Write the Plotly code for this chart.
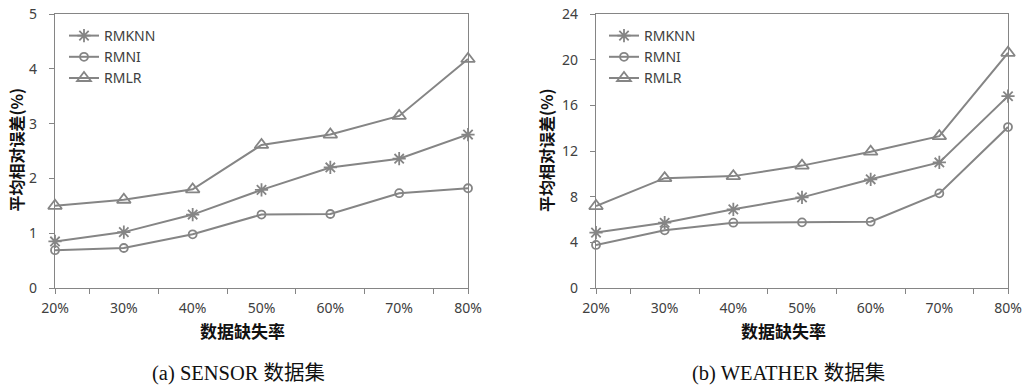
import plotly.graph_objects as go

categories = ["20%", "30%", "40%", "50%", "60%", "70%", "80%"]
series_names = ["RMKNN", "RMNI", "RMLR"]

sensor_rmknn = [0.85, 1.02, 1.34, 1.79, 2.20, 2.36, 2.80]
sensor_rmni = [0.69, 0.73, 0.98, 1.34, 1.35, 1.73, 1.82]
sensor_rmlr = [1.50, 1.61, 1.80, 2.61, 2.80, 3.14, 4.18]

weather_rmknn = [4.85, 5.72, 6.89, 7.94, 9.52, 11.0, 16.8]
weather_rmni = [3.77, 5.05, 5.72, 5.75, 5.81, 8.29, 14.1]
weather_rmlr = [7.18, 9.62, 9.8, 10.72, 11.94, 13.3, 20.6]

y_title = "平均相对误差(%)"
x_title = "数据缺失率"
captions = ["(a) SENSOR 数据集", "(b) WEATHER 数据集"]

W, H = 1028, 386
GRAY = "#858585"
TXT = "#404040"
SANS = "Noto Sans, Noto Sans CJK SC"
symbols = ["asterisk-open", "circle-open", "triangle-up-open"]
sizes = [11, 8, 12]

fig = go.Figure()
xs = list(range(len(categories)))
panels = [
    ([sensor_rmknn, sensor_rmni, sensor_rmlr], "x", "y", "legend"),
    ([weather_rmknn, weather_rmni, weather_rmlr], "x2", "y2", "legend2"),
]
for vals, xa, ya, lg in panels:
    for name, v, sym, sz in zip(series_names, vals, symbols, sizes):
        fig.add_trace(go.Scatter(
            x=xs, y=v, name=name, mode="lines+markers",
            xaxis=xa, yaxis=ya, legend=lg,
            line=dict(color=GRAY, width=2),
            marker=dict(symbol=sym, size=sz, color=GRAY,
                        line=dict(color=GRAY, width=1.8)),
            cliponaxis=False,
        ))

def px_x(p):
    return p / W

def px_y(p):
    return 1 - p / H

top, bot = px_y(14), px_y(288)
xdoms = [(px_x(55), px_x(468)), (px_x(596), px_x(1008))]
yinfo = [(5, 1), (24, 4)]
minor_ticks = [0, 0.5, 1.5, 2.5, 3.5, 4.5, 5.5, 6]

axis_common = dict(showline=True, linecolor=GRAY, linewidth=1.2, mirror=True,
                   showgrid=False, zeroline=False, automargin=False,
                   tickfont=dict(family=SANS, size=14, color=TXT))
for i, (dom, (ymax, dt)) in enumerate(zip(xdoms, yinfo)):
    sfx = "" if i == 0 else str(i + 1)
    fig.layout["xaxis" + sfx] = dict(
        axis_common, domain=list(dom), range=[0, 6], anchor="y" + sfx,
        tickmode="array", tickvals=xs, ticktext=categories, ticks="",
        ticklabelstandoff=7,
        minor=dict(tickmode="array", tickvals=minor_ticks, ticks="outside", ticklen=5,
                   tickcolor=GRAY, tickwidth=1),
    )
    fig.layout["yaxis" + sfx] = dict(
        axis_common, domain=[bot, top], range=[0, ymax], dtick=dt,
        anchor="x" + sfx, ticks="outside", ticklen=5, tickcolor=GRAY,
        ticklabelstandoff=9,
    )

legend_common = dict(bgcolor="rgba(0,0,0,0)", font=dict(family=SANS, size=14, color=TXT),
                     xanchor="left", yanchor="top", tracegroupgap=0, itemwidth=30)
fig.update_layout(
    legend=dict(legend_common, x=px_x(64), y=px_y(20)),
    legend2=dict(legend_common, x=px_x(604), y=px_y(20)),
)

xt_centers = [242, 783]
yt_centers = [15.5, 546]
cap_centers = [238, 788]
annos = []
for i, cap in enumerate(captions):
    annos.append(dict(text="<b>" + x_title + "</b>", x=px_x(xt_centers[i]), y=px_y(330),
                      xref="paper", yref="paper", showarrow=False,
                      xanchor="center", yanchor="middle",
                      font=dict(family="Noto Sans CJK SC", size=17, color="#111")))
    annos.append(dict(text="<b>" + y_title + "</b>", x=px_x(yt_centers[i]), y=px_y(150),
                      xref="paper", yref="paper", showarrow=False, textangle=-90,
                      xanchor="center", yanchor="middle",
                      font=dict(family="Noto Sans CJK SC", size=16, color="#111")))
    annos.append(dict(text=cap, x=px_x(cap_centers[i]), y=px_y(373), xref="paper", yref="paper",
                      showarrow=False, xanchor="center", yanchor="middle",
                      font=dict(family="Liberation Serif, Noto Sans CJK SC", size=20.5, color="#111")))
fig.update_layout(
    annotations=annos, width=W, height=H, margin=dict(l=0, r=0, t=0, b=0),
    paper_bgcolor="white", plot_bgcolor="white", showlegend=True,
)
fig.write_html("out.html", config={"displayModeBar": False},
               post_script="document.body.style.margin='0';")
